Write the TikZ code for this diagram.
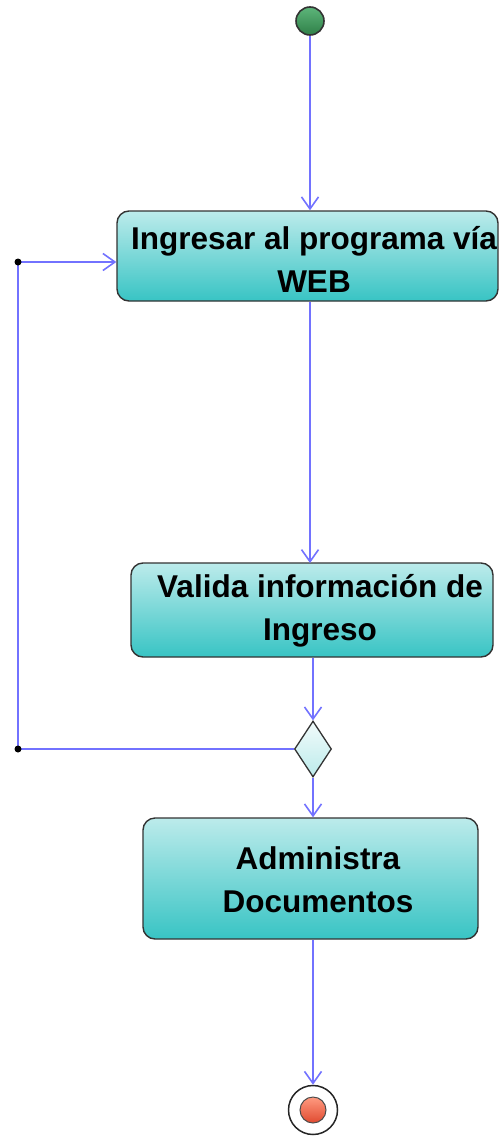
\documentclass[tikz,border=0pt]{standalone}
\usepackage{fontspec}
\setmainfont{Liberation Sans}
\usetikzlibrary{arrows.meta,shapes.geometric}
\definecolor{flow}{HTML}{7272FF}
\definecolor{boxtop}{HTML}{BCEBEB}
\definecolor{boxbot}{HTML}{38C4C4}
\definecolor{edge}{HTML}{333333}
\definecolor{starttop}{HTML}{5DB57A}
\definecolor{startbot}{HTML}{2F8048}
\definecolor{endtop}{HTML}{FF9A80}
\definecolor{endbot}{HTML}{E04A30}
\tikzset{
  actbox/.style={draw=edge, line width=1.4pt, rounded corners=12pt, top color=boxtop, bottom color=boxbot, inner sep=0pt},
  acttext/.style={font=\fontsize{31.5}{43}\selectfont\bfseries, align=center, inner sep=0pt},
  flowline/.style={draw=flow, line width=1.6pt},
  flowarrow/.style={flowline, -{Straight Barb[length=12pt, width=17pt, line width=1.6pt]}},
  joint/.style={circle, fill=black, inner sep=0pt, minimum size=7pt},
}
\begin{document}
\begin{tikzpicture}[x=1pt,y=-1pt]
\useasboundingbox (0,0) rectangle (502,1137);
% start
\node[circle, draw=black!80, line width=1.6pt, inner sep=0pt, minimum size=28pt, top color=starttop, bottom color=startbot] (start) at (310,21) {};
% boxes
\node[actbox, minimum width=381pt, minimum height=90pt] (b1) at (307.5,256) {};
\node[acttext] (t1) at (314,259) {Ingresar al programa vía\\WEB};
\node[actbox, minimum width=362pt, minimum height=94pt] (b2) at (312,610) {};
\node[acttext] (t2) at (320,611) {Valida información de\\Ingreso};
\node[actbox, minimum width=335pt, minimum height=121pt] (b3) at (310.5,878.5) {};
\node[acttext] (t3) at (318,880) {Administra\\Documentos};
% decision
\node[diamond, draw=edge, line width=1.3pt, inner sep=0pt, minimum width=37pt, minimum height=56pt, top color=white!80!boxtop, bottom color=boxtop] (d) at (313,749) {};
% final
\node[circle, draw=black!85, line width=1.5pt, fill=white, inner sep=0pt, minimum size=49pt] (end) at (313,1110) {};
\node[circle, draw=black!70, line width=1pt, inner sep=0pt, minimum size=26pt, top color=endtop, bottom color=endbot] (endin) at (313,1110) {};
% joints
\coordinate (j1) at (18,262);
\coordinate (j2) at (18,749);
% connectors
\draw[flowarrow] (start.south) -- (start.south |- b1.north);
\draw[flowarrow] (b1.south -| 310,0) -- (310,563);
\draw[flowarrow] (d.north |- b2.south) -- (d.north);
\draw[flowarrow] (d.south) -- (d.south |- b3.north);
\draw[flowarrow] (end.north |- b3.south) -- (end.north);
\draw[flowline] (d.west) -- (j2) -- (j1);
\draw[flowarrow] (j1) -- (b1.west |- j1);
\node[joint] at (j1) {};
\node[joint] at (j2) {};
\end{tikzpicture}
\end{document}
